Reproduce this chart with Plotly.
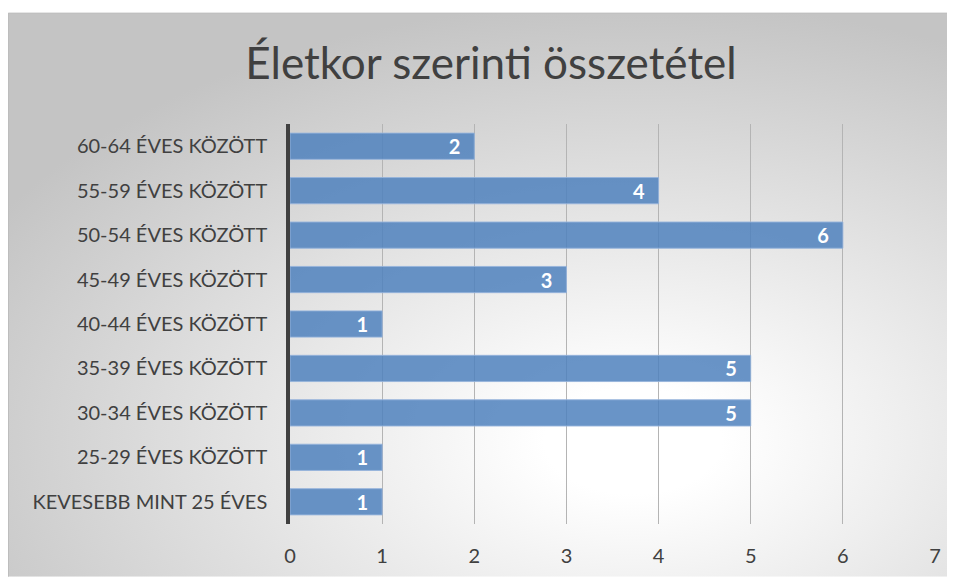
import base64
import plotly.graph_objects as go

categories = [
    "KEVESEBB MINT 25 ÉVES",
    "25-29 ÉVES KÖZÖTT",
    "30-34 ÉVES KÖZÖTT",
    "35-39 ÉVES KÖZÖTT",
    "40-44 ÉVES KÖZÖTT",
    "45-49 ÉVES KÖZÖTT",
    "50-54 ÉVES KÖZÖTT",
    "55-59 ÉVES KÖZÖTT",
    "60-64 ÉVES KÖZÖTT",
]
values = [1, 1, 5, 5, 1, 3, 6, 4, 2]
x_ticks = [0, 1, 2, 3, 4, 5, 6, 7]
title_text = "Életkor szerinti összetétel"

OFF = 8  # page body margin
W, H = 955 - OFF, 579 - OFF
L, R, T, B = 290 - OFF, 20, 124 - OFF, 53
pw, ph = W - L - R, H - T - B
FONT = "Lato"

# background frame (chart area) with radial gradient
fx0, fy0 = 8 - OFF, 12 - OFF
fw, fh = W - fx0, H - fy0
svg = f'''<svg xmlns="http://www.w3.org/2000/svg" width="{fw}" height="{fh}">
<defs><radialGradient id="g" cx="0.66" cy="0.76" r="0.78" gradientUnits="objectBoundingBox">
<stop offset="0" stop-color="#ffffff"/><stop offset="0.12" stop-color="#ffffff"/>
<stop offset="1" stop-color="#c4c4c4"/></radialGradient></defs>
<rect x="0" y="0" width="{fw}" height="{fh}" fill="url(#g)"/>
<path d="M0.5 {fh} L0.5 0.5 L{fw} 0.5" fill="none" stroke="#bdbdbd" stroke-width="1"/>
</svg>'''
src = "data:image/svg+xml;base64," + base64.b64encode(svg.encode()).decode()

fig = go.Figure(go.Bar(
    y=categories, x=values, orientation="h",
    marker=dict(color="rgba(79,129,189,0.85)", line=dict(color="rgba(150,180,220,0.9)", width=1)),
    text=[str(v) for v in values],
    texttemplate="%{text}\u00a0\u00a0\u200a", textposition="inside", insidetextanchor="end", textangle=0,
    textfont=dict(color="white", size=20, family=FONT, weight="bold"),
    constraintext="none", cliponaxis=False,
))

fig.add_layout_image(dict(
    source=src, xref="paper", yref="paper",
    x=(fx0 - L) / pw, y=1 + (T - fy0) / ph,
    sizex=fw / pw, sizey=fh / ph,
    sizing="stretch", xanchor="left", yanchor="top", layer="below",
))

fig.update_layout(
    width=W, height=H,
    margin=dict(l=L, r=R, t=T, b=B),
    paper_bgcolor="white", plot_bgcolor="rgba(0,0,0,0)",
    bargap=0.41,
    showlegend=False,
    title=dict(text=title_text, x=(491 - OFF) / W, xanchor="center", y=1 - (64 - OFF) / H, yanchor="middle",
               font=dict(family=FONT, size=44, color="#404040")),
    xaxis=dict(range=[0, 7], tickvals=x_ticks, showgrid=True, gridcolor="#b4b4b4", gridwidth=1,
               zeroline=False, showline=False, ticks="", ticklabelstandoff=18,
               tickfont=dict(family=FONT, size=20, color="#404040")),
    yaxis=dict(categoryorder="array", categoryarray=categories, range=[-0.5, 8.5],
               showline=True, linecolor="#404040", linewidth=3.5, showgrid=False, zeroline=False,
               ticks="", ticklabelstandoff=15,
               tickfont=dict(family=FONT, size=20, color="#404040")),
)

fig.write_html("out.html")
